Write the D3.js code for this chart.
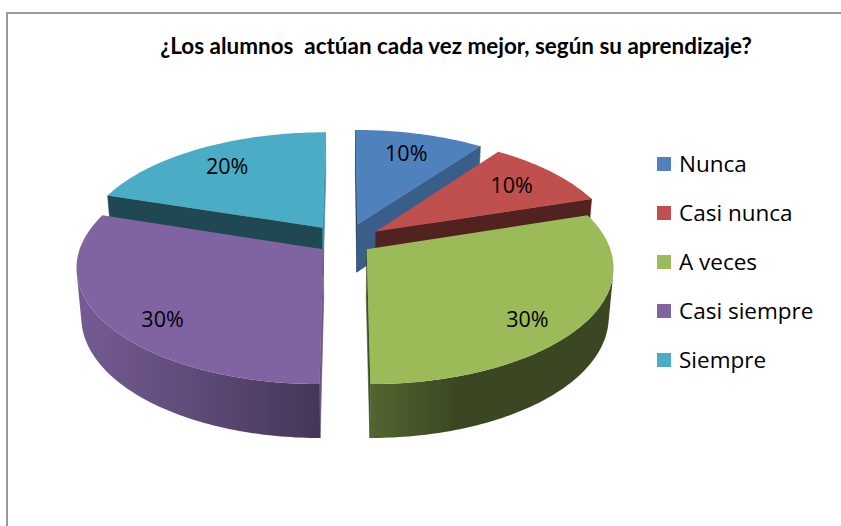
<!DOCTYPE html>
<html>
<head>
<meta charset="utf-8">
<script src="https://cdnjs.cloudflare.com/ajax/libs/d3/7.8.5/d3.min.js"></script>
<style>
    html, body { margin: 0; padding: 0; overflow: hidden; background: #fff; }
    svg { display: block; }
    svg text { font-family: 'Open Sans', sans-serif; fill: #000; }
</style>
</head>
<body>
<svg id="chart" width="841" height="526"></svg>
<script>
var title = '¿Los alumnos  actúan cada vez mejor, según su aprendizaje?';
var categories = ['Nunca', 'Casi nunca', 'A veces', 'Casi siempre', 'Siempre'];
var values = [10, 10, 30, 30, 20];
var colors = ['#4F81BD', '#C0504D', '#9BBB59', '#8064A2', '#4BACC6'];

/* how far each slice is pulled out, in pie radii */
var explode = [0.165, 0.16, 0.11, 0.11, 0.16];

/* camera for the 3d pie */
var view = {
    cx: 345,
    cy: 242,
    f: 1480,
    dist: 6.13,
    tilt: 27.9 * Math.PI / 180,
    depth: 0.23
};
var sinE = Math.sin(view.tilt),
    cosE = Math.cos(view.tilt),
    cam = [0, view.dist * sinE, view.dist * cosE],
    light = [-0.9535, 0, 0.3011];

var svg = d3.select('#chart');
var defs = svg.append('defs');
var line = d3.line();
var pct = d3.format('.0%');
var total = d3.sum(values);

function project(p) {
    var yc = p[1] * cosE - p[2] * sinE,
        d = view.dist - p[2] * cosE - p[1] * sinE;
    return [view.cx + view.f * p[0] / d, view.cy - view.f * yc / d];
}

function facing(n, p) {
    return n[0] * (cam[0] - p[0]) + n[1] * (cam[1] - p[1]) + n[2] * (cam[2] - p[2]) > 0;
}

function shade(c, k) {
    var r = d3.rgb(c);
    return d3.rgb(r.r * k, r.g * k, r.b * k).toString();
}

function rim(s, a, y) {
    return [s.ox + Math.sin(a), y, s.oz - Math.cos(a)];
}

function poly(g, pts, fill, edge) {
    return g.append('path')
        .attr('d', line(pts.map(project)) + 'Z')
        .attr('fill', fill)
        .attr('stroke', edge ? fill : 'none')
        .attr('stroke-width', edge ? 0.6 : 0);
}

var pie = d3.pie().sort(null).value(function (d) { return d; });

var slices = pie(values).map(function (a, i) {
    var mid = (a.startAngle + a.endAngle) / 2;
    return {
        i: i,
        a0: a.startAngle,
        a1: a.endAngle,
        mid: mid,
        ox: explode[i] * Math.sin(mid),
        oz: -explode[i] * Math.cos(mid)
    };
});

/* back slices first */
var order = slices.slice().sort(function (a, b) {
    return Math.cos(b.mid) - Math.cos(a.mid);
});

// frame: only the top and left edges fall inside the picture
svg.append('path')
    .attr('d', 'M7,530V13H845')
    .attr('fill', 'none')
    .attr('stroke', '#9a9a9a')
    .attr('stroke-width', 2);

var h = -view.depth;

order.forEach(function (s) {
    var g = svg.append('g').attr('class', 'slice'),
        base = colors[s.i],
        apexT = [s.ox, 0, s.oz],
        apexB = [s.ox, h, s.oz];

    // cut faces
    [[s.a0, -1], [s.a1, 1]].forEach(function (f) {
        var a = f[0],
            n = [f[1] * Math.cos(a), 0, f[1] * Math.sin(a)];
        if (!facing(n, apexT)) return;
        var k = 0.42 + 0.6 * Math.max(0, n[0] - 0.3);
        poly(g, [apexT, rim(s, a, 0), rim(s, a, h), apexB], shade(base, k), true);
    });

    // outer wall, one path with a horizontal gradient
    var steps = Math.ceil((s.a1 - s.a0) / (Math.PI / 180)),
        da = (s.a1 - s.a0) / steps;
    var seen = d3.range(steps + 1).map(function (j) {
        return s.a0 + j * da;
    }).filter(function (a) {
        return facing([Math.sin(a), 0, -Math.cos(a)], rim(s, a, 0));
    });

    if (seen.length > 1) {
        var stops = seen.map(function (a) {
            var lit = Math.max(0, Math.sin(a) * light[0] - Math.cos(a) * light[2]);
            return { x: project(rim(s, a, 0))[0], c: shade(base, 0.38 + 0.52 * lit) };
        }).sort(function (p, q) { return p.x - q.x; });
        var x0 = stops[0].x,
            x1 = stops[stops.length - 1].x,
            id = 'wall' + s.i;

        defs.append('linearGradient')
            .attr('id', id)
            .attr('gradientUnits', 'userSpaceOnUse')
            .attr('x1', x0).attr('x2', x1)
            .attr('y1', 0).attr('y2', 0)
            .selectAll('stop')
            .data(stops)
            .enter().append('stop')
            .attr('offset', function (d) { return (d.x - x0) / (x1 - x0 || 1); })
            .attr('stop-color', function (d) { return d.c; });

        var wall = seen.map(function (a) { return rim(s, a, 0); })
            .concat(seen.slice().reverse().map(function (a) { return rim(s, a, h); }));
        poly(g, wall, 'url(#' + id + ')', false);
    }

    // top
    var top = [apexT].concat(d3.range(steps + 1).map(function (j) {
        return rim(s, s.a0 + j * da, 0);
    }));
    poly(g, top, base, false);
});

// percentage labels
slices.forEach(function (s) {
    var r = 0.76,
        p = project([
            s.ox + r * Math.sin(s.mid),
            h * 0.5 * Math.max(0, -Math.cos(s.mid)),
            s.oz - r * Math.cos(s.mid)
        ]);
    svg.append('text')
        .attr('x', p[0])
        .attr('y', p[1])
        .attr('dy', '0.35em')
        .attr('text-anchor', 'middle')
        .style('font-size', '21.5px')
        .text(pct(values[s.i] / total));
});

// legend
var legendY = d3.scaleLinear()
    .domain([0, categories.length - 1])
    .range([164, 360]);

var legend = svg.selectAll('.legend')
    .data(categories)
    .enter().append('g')
    .attr('class', 'legend')
    .attr('transform', function (d, i) { return 'translate(657,' + legendY(i) + ')'; });

legend.append('rect')
    .attr('x', 0)
    .attr('y', -7)
    .attr('width', 14)
    .attr('height', 14)
    .attr('fill', function (d, i) { return colors[i]; });

legend.append('text')
    .attr('x', 22)
    .attr('y', 8)
    .style('font-size', '22.5px')
    .text(function (d) { return d; });

// title, sized to the original width
var t = svg.append('text')
    .attr('x', 456)
    .attr('y', 54)
    .attr('text-anchor', 'middle')
    .style('font-family', 'Lato, sans-serif')
    .style('font-weight', 'bold')
    .style('font-size', '18px')
    .style('white-space', 'pre')
    .text(title);
var tw = t.node().getComputedTextLength();
t.style('font-size', (18 * 592 / tw) + 'px');
</script>
</body>
</html>
